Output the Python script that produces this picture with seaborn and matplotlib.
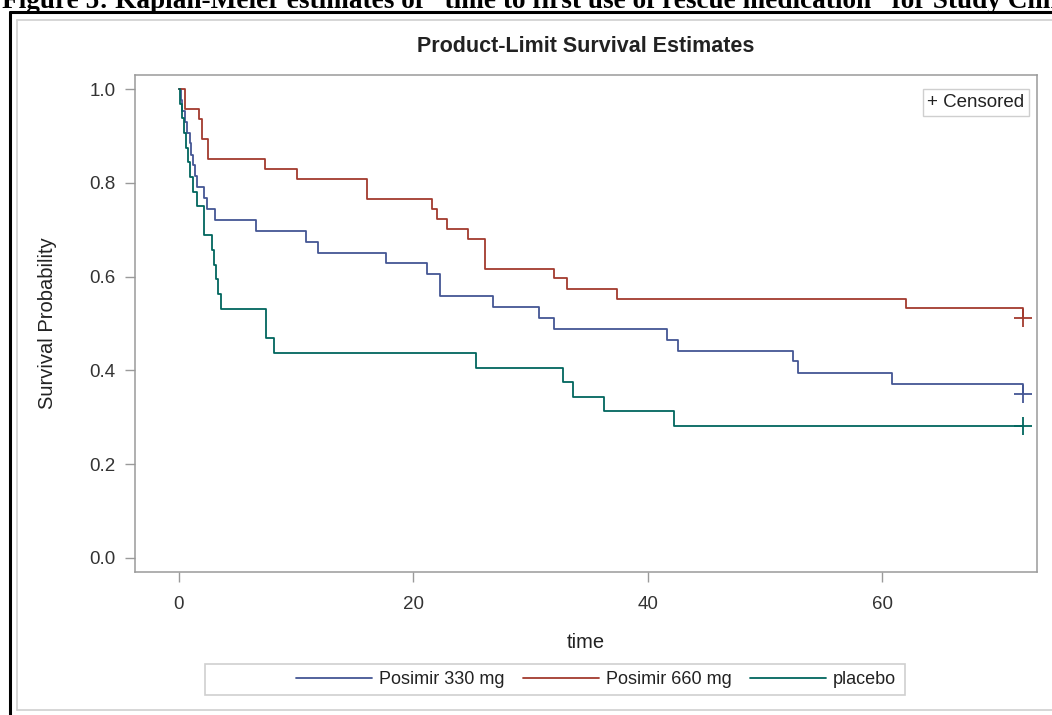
import matplotlib
matplotlib.use("Agg")
import matplotlib.pyplot as plt
from matplotlib.lines import Line2D
from matplotlib.patches import Rectangle
import pandas as pd
import seaborn as sns

W, H = 1052, 715

# Kaplan-Meier step points: time where the estimate changes, new estimate
time_330 = [0, 0.2, 0.3, 0.5, 0.7, 0.9, 1.0, 1.2, 1.4, 1.5, 2.1, 2.4, 3.1, 6.6,
            10.8, 11.9, 17.7, 21.2, 22.3, 26.8, 30.7, 32.0, 41.6, 42.6, 52.4,
            52.8, 60.8, 72.0]
surv_330 = [1.0, 0.977, 0.953, 0.930, 0.907, 0.884, 0.860, 0.837, 0.814, 0.791,
            0.767, 0.744, 0.721, 0.698, 0.674, 0.651, 0.628, 0.605, 0.558, 0.535,
            0.512, 0.488, 0.465, 0.442, 0.419, 0.395, 0.372, 0.349]

time_660 = [0, 0.5, 1.7, 2.0, 2.5, 7.3, 10.1, 16.0, 21.6, 22.0, 22.9, 24.7, 26.1,
            32.0, 33.1, 37.4, 62.0, 72.0]
surv_660 = [1.0, 0.957, 0.936, 0.894, 0.851, 0.830, 0.809, 0.766, 0.745, 0.723,
            0.702, 0.681, 0.617, 0.596, 0.574, 0.553, 0.532, 0.511]

time_pbo = [0, 0.1, 0.3, 0.4, 0.6, 0.8, 0.9, 1.2, 1.5, 2.1, 2.8, 3.0, 3.2, 3.3,
            3.6, 7.4, 8.1, 25.3, 32.8, 33.6, 36.3, 42.2, 72.0]
surv_pbo = [1.0, 0.969, 0.938, 0.906, 0.875, 0.844, 0.813, 0.781, 0.750, 0.688,
            0.656, 0.625, 0.594, 0.563, 0.531, 0.469, 0.438, 0.406, 0.375, 0.344,
            0.313, 0.281, 0.281]

groups = ["Posimir 330 mg", "Posimir 660 mg", "placebo"]
colors = ["#445694", "#A23A2E", "#01665E"]

# censored observations (end of follow-up)
censor_time = [72.0, 72.0, 72.0]
censor_surv = [0.349, 0.511, 0.281]

x_ticks = [0, 20, 40, 60]
y_ticks = [0.0, 0.2, 0.4, 0.6, 0.8, 1.0]


def fx(px):
    return px / W


def fy(py):
    return 1 - py / H


def main():
    sns.set_theme(style="white")
    plt.rcParams["font.family"] = ["Liberation Sans", "DejaVu Sans"]

    curves = pd.concat(
        [
            pd.DataFrame({"time": t, "surv": s, "group": g})
            for g, t, s in zip(groups, [time_330, time_660, time_pbo],
                               [surv_330, surv_660, surv_pbo])
        ],
        ignore_index=True,
    )
    cens = pd.DataFrame({"time": censor_time, "surv": censor_surv, "group": groups})
    palette = dict(zip(groups, colors))

    fig = plt.figure(figsize=(W / 100, H / 100), dpi=100)
    fig.patch.set_facecolor("white")

    # page frame and header (clipped at top like the screenshot)
    fig.add_artist(Line2D([fx(10), fx(1060)], [fy(12), fy(12)], color="black", lw=2.2))
    fig.add_artist(Line2D([fx(10), fx(10)], [fy(12), fy(720)], color="black", lw=2.2))
    fig.text(fx(2), fy(8),
             "Figure 5: Kaplan-Meier estimates of \u201ctime to first use of rescue "
             "medication\u201d for Study Clin",
             family=["Liberation Serif", "DejaVu Serif"], fontweight="bold",
             fontsize=19.6, va="baseline", ha="left", color="black")

    # light graph border
    fig.add_artist(Line2D([fx(17), fx(1060)], [fy(20), fy(20)], color="#d0d0d0", lw=1.2))
    fig.add_artist(Line2D([fx(17), fx(17)], [fy(20), fy(710)], color="#d0d0d0", lw=1.2))
    fig.add_artist(Line2D([fx(17), fx(1060)], [fy(710), fy(710)], color="#d0d0d0", lw=1.2))

    ax = fig.add_axes([fx(135), fy(572), (1037 - 135) / W, (572 - 75) / H])

    sns.lineplot(data=curves, x="time", y="surv", hue="group", palette=palette,
                 estimator=None, drawstyle="steps-post", linewidth=1.3,
                 legend=False, ax=ax)
    sns.scatterplot(data=cens, x="time", y="surv", hue="group", palette=palette,
                    marker="+", s=170, linewidth=1.3, legend=False, ax=ax, zorder=5)

    ax.set_xlim(-3.75, 73.2)
    ax.set_ylim(-0.03, 1.03)
    ax.set_xticks(x_ticks)
    ax.set_yticks(y_ticks)
    ax.set_yticklabels([f"{v:.1f}" for v in y_ticks])
    for sp in ax.spines.values():
        sp.set_color("#9a9a9a")
        sp.set_linewidth(1.1)
    ax.tick_params(axis="both", direction="out", length=7, width=1, color="#9a9a9a",
                   labelsize=13.5, labelcolor="#333333", left=True, bottom=True)
    ax.tick_params(axis="x", pad=10)
    ax.tick_params(axis="y", pad=7)

    ax.set_xlabel("time", fontsize=14.5, color="#222222")
    ax.xaxis.set_label_coords((586 - 135) / 902, (572 - 643) / 497)
    ax.xaxis.label.set_va("center")
    ax.set_ylabel("Survival Probability", fontsize=14.5, color="#222222")
    ax.yaxis.set_label_coords((48 - 135) / 902, 0.5)
    ax.yaxis.label.set_va("center")

    fig.text(fx(586), fy(47), "Product-Limit Survival Estimates", ha="center",
             va="center", fontsize=15.5, fontweight="bold", color="#222222")

    # censored key inside the plot
    ax.text(0.986, 0.962, "+ Censored", transform=ax.transAxes, ha="right", va="top",
            fontsize=13.5, color="#222222",
            bbox=dict(boxstyle="square,pad=0.25", fc="white", ec="#cfcfcf", lw=1))

    # legend below the plot
    fig.add_artist(Rectangle((fx(205), fy(695)), (905 - 205) / W, (695 - 664) / H,
                             transform=fig.transFigure, fill=False, ec="#cfcfcf", lw=1.2))
    handles = [Line2D([], [], color=c, lw=1.3) for c in colors]
    fig.legend(handles, groups, loc="center left", bbox_to_anchor=(fx(280), fy(680)),
               ncol=3, frameon=False, fontsize=13, handlelength=4.2,
               handletextpad=0.4, columnspacing=1.0, labelcolor="#222222")

    fig.savefig("out.png", dpi=100, facecolor="white")
    plt.close(fig)


if __name__ == "__main__":
    main()
